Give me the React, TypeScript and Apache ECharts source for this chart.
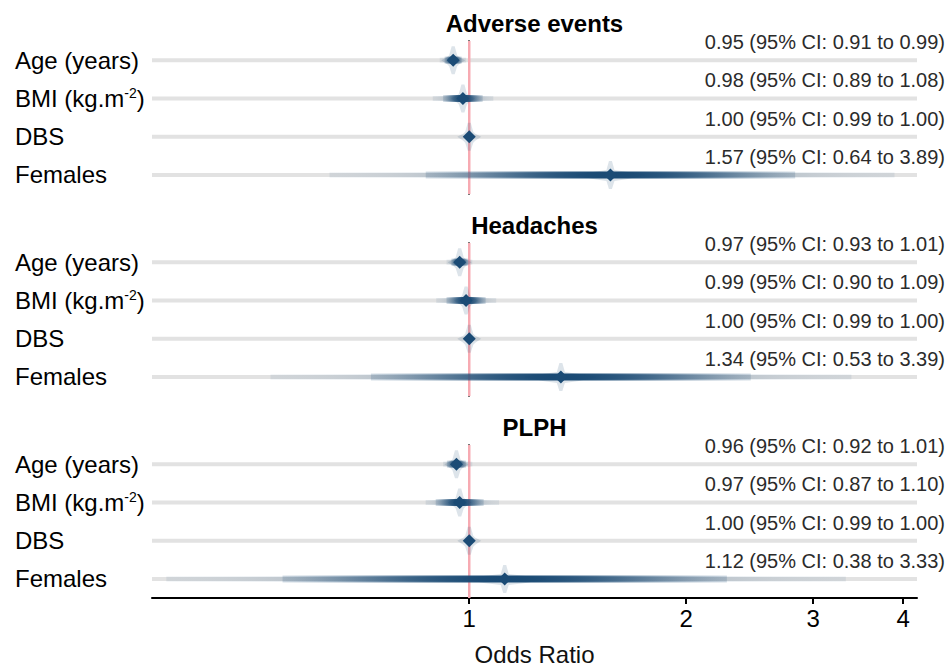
import React, { useEffect, useRef } from "react";
import * as echarts from "echarts";

const panels = ["Adverse events", "Headaches", "PLPH"];
const predictors = ["Age (years)", "BMI (kg.m⁻²)", "DBS", "Females"];

const adverseEst = [0.95, 0.98, 1.0, 1.57];
const adverseLo = [0.91, 0.89, 0.99, 0.64];
const adverseHi = [0.99, 1.08, 1.0, 3.89];

const headachesEst = [0.97, 0.99, 1.0, 1.34];
const headachesLo = [0.93, 0.9, 0.99, 0.53];
const headachesHi = [1.01, 1.09, 1.0, 3.39];

const plphEst = [0.96, 0.97, 1.0, 1.12];
const plphLo = [0.92, 0.87, 0.99, 0.38];
const plphHi = [1.01, 1.1, 1.0, 3.33];

const xTicks = [1, 2, 3, 4];
const xMin = 0.363;
const xMax = 4.18;
const nullValue = 1;

const panelEst = [adverseEst, headachesEst, plphEst];
const panelLo = [adverseLo, headachesLo, plphLo];
const panelHi = [adverseHi, headachesHi, plphHi];

const FONT = '"Liberation Sans", Arial, Helvetica, sans-serif';
const BLUE = "27,75,117";
const lg = (v: number) => Math.log10(v);

function gradStops(x0: number, x1: number, cx: number, se: number, power: number, floor: number, peak: number) {
  const stops: any[] = [];
  const N = 48;
  for (let i = 0; i <= N; i++) {
    const t = i / N;
    const x = x0 + t * (x1 - x0);
    const z = se > 0 ? (x - cx) / se : 0;
    const d = Math.exp((-z * z) / 2);
    const a = floor + (peak - floor) * Math.pow(d, power);
    stops.push({ offset: t, color: `rgba(${BLUE},${a.toFixed(3)})` });
  }
  return stops;
}

export default function App() {
  const ref = useRef<HTMLDivElement>(null);
  useEffect(() => {
    if (!ref.current) return;
    const chart = echarts.init(ref.current, undefined, { renderer: "svg" });
    const tops = [41, 243, 445];
    const H = 153;
    const grids = tops.map((t) => ({ left: 152, right: 33, top: t, height: H }));

    const xAxes = tops.map((_, i) => {
      const last = i === tops.length - 1;
      return {
        type: "value",
        gridIndex: i,
        min: lg(xMin),
        max: lg(xMax),
        splitLine: { show: false },
        axisLine: { show: last, onZero: false, lineStyle: { color: "#000", width: 2 } },
        axisTick: {
          show: last,
          length: 6,
          lineStyle: { color: "#000", width: 2 },
          customValues: xTicks.map(lg),
        },
        axisLabel: {
          show: last,
          customValues: xTicks.map(lg),
          formatter: (v: number) => String(Math.round(Math.pow(10, v))),
          fontSize: 24,
          color: "#000",
          fontFamily: FONT,
          margin: 8,
        },
        name: last ? "Odds Ratio" : "",
        nameLocation: "middle",
        nameGap: 44,
        nameTextStyle: { fontSize: 24, color: "#111", fontFamily: FONT },
      };
    });

    const yAxes = tops.map((_, i) => ({
      type: "category",
      gridIndex: i,
      data: predictors,
      inverse: true,
      axisLine: { show: true, lineStyle: { color: "#4a4a4a", width: 2 } },
      axisTick: { show: true, alignWithLabel: true, length: 3, lineStyle: { color: "#333", width: 1.5 } },
      splitLine: { show: false },
      axisLabel: {
        fontSize: 24,
        color: "#000",
        fontFamily: FONT,
        margin: 137,
        align: "left",
        formatter: (v: string) => v.replace("⁻²", "{sup|-2}"),
        rich: {
          sup: { fontSize: 14, color: "#000", fontFamily: FONT, verticalAlign: "top", padding: [0, 0, 10, 0] },
        },
      },
    }));

    const series: any[] = [];
    panels.forEach((_, i) => {
      const rows = predictors.map((_, r) => [
        lg(panelEst[i][r]),
        r,
        lg(panelLo[i][r]),
        lg(panelHi[i][r]),
        panelEst[i][r],
        panelLo[i][r],
        panelHi[i][r],
      ]);
      series.push({
        type: "custom",
        xAxisIndex: i,
        yAxisIndex: i,
        z: 1,
        data: rows,
        encode: { x: 0, y: 1 },
        renderItem: (params: any, api: any) => {
          const cs = params.coordSys;
          const p = api.coord([api.value(0), api.value(1)]);
          return {
            type: "line",
            shape: { x1: cs.x, y1: p[1], x2: cs.x + cs.width, y2: p[1] },
            style: { stroke: "#e2e2e2", lineWidth: 4 },
          };
        },
      });
      series.push({
        type: "custom",
        xAxisIndex: i,
        yAxisIndex: i,
        z: 2,
        data: [[lg(nullValue), 0]],
        encode: { x: 0, y: 1 },
        renderItem: (params: any, api: any) => {
          const cs = params.coordSys;
          const p = api.coord([api.value(0), 0]);
          return {
            type: "line",
            shape: { x1: p[0], y1: cs.y, x2: p[0], y2: cs.y + cs.height },
            style: { stroke: "#f7aab2", lineWidth: 2.5 },
          };
        },
      });
      series.push({
        type: "custom",
        xAxisIndex: i,
        yAxisIndex: i,
        z: 3,
        clip: false,
        data: rows,
        encode: { x: 0, y: 1 },
        renderItem: (params: any, api: any) => {
          const cs = params.coordSys;
          const p = api.coord([api.value(0), api.value(1)]);
          const cx = p[0];
          const cy = p[1];
          const pl = api.coord([api.value(2), api.value(1)])[0];
          const ph = api.coord([api.value(3), api.value(1)])[0];
          const se = (ph - pl) / 3.92;
          const children: any[] = [];
          if (ph - pl > 1) {
            children.push({
              type: "rect",
              shape: { x: pl, y: cy - 2.5, width: ph - pl, height: 5 },
              style: {
                fill: new echarts.graphic.LinearGradient(0, 0, 1, 0, gradStops(pl, ph, cx, se, 2, 0.08, 0.55)),
              },
            });
            const a0 = Math.max(pl, cx - 1.2816 * se);
            const a1 = Math.min(ph, cx + 1.2816 * se);
            children.push({
              type: "rect",
              shape: { x: a0, y: cy - 3.5, width: a1 - a0, height: 7 },
              style: {
                fill: new echarts.graphic.LinearGradient(0, 0, 1, 0, gradStops(a0, a1, cx, se, 2.4, 0.04, 1)),
              },
            });
          }
          const hw = Math.max(12, 0.24 * se);
          const vh = 14;
          children.push({
            type: "polygon",
            shape: {
              points: [
                [cx - hw, cy],
                [cx - hw * 0.5, cy - 3],
                [cx - 4, cy - 5],
                [cx - 1.5, cy - vh],
                [cx + 1.5, cy - vh],
                [cx + 4, cy - 5],
                [cx + hw * 0.5, cy - 3],
                [cx + hw, cy],
                [cx + hw * 0.5, cy + 4],
                [cx + 4, cy + 6],
                [cx + 1.5, cy + vh],
                [cx - 1.5, cy + vh],
                [cx - 4, cy + 6],
                [cx - hw * 0.5, cy + 4],
              ],
            },
            style: { fill: `rgba(${BLUE},0.15)` },
          });
          const d = 6.5;
          children.push({
            type: "polygon",
            shape: { points: [[cx, cy - d], [cx + d, cy], [cx, cy + d], [cx - d, cy]] },
            style: { fill: `rgb(${BLUE})` },
          });
          const txt = `${api.value(4).toFixed(2)} (95% CI: ${api.value(5).toFixed(2)} to ${api.value(6).toFixed(2)})`;
          children.push({
            type: "text",
            x: cs.x + cs.width + 28,
            y: cy - 18,
            style: {
              text: txt,
              align: "right",
              verticalAlign: "middle",
              fontSize: 20,
              fill: "#2b2b2b",
              fontFamily: FONT,
            },
          });
          return { type: "group", children };
        },
      });
    });

    const graphic = panels.map((t, i) => ({
      type: "text",
      x: 152 + (950 - 152 - 33) / 2,
      y: tops[i] - 18,
      style: {
        text: t,
        align: "center",
        verticalAlign: "middle",
        fontSize: 24,
        fontWeight: "bold",
        fill: "#000",
        fontFamily: FONT,
      },
    }));

    chart.setOption({
      animation: false,
      backgroundColor: "#fff",
      grid: grids,
      xAxis: xAxes,
      yAxis: yAxes,
      series,
      graphic,
    });
    return () => chart.dispose();
  }, []);
  return (
    <div
      ref={ref}
      style={{ position: "fixed", left: 0, top: 0, width: 950, height: 669 }}
    />
  );
}
